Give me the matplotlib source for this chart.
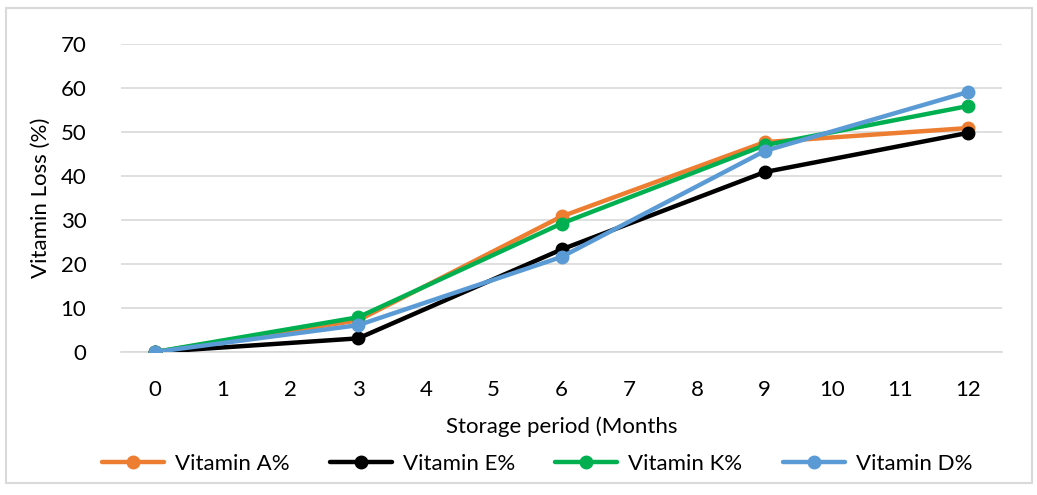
import matplotlib.pyplot as plt
from matplotlib.patches import Rectangle

plt.rcParams['font.family'] = ['Lato', 'DejaVu Sans']

# Lagringstid (måneder) og vitamintap (%)
months = [0, 3, 6, 9, 12]
vit_a = [0, 7.2, 30.8, 47.7, 50.9]
vit_e = [0, 3.1, 23.3, 40.9, 49.8]
vit_k = [0, 7.9, 29.2, 47.0, 55.9]
vit_d = [0, 6.1, 21.6, 45.7, 59.1]

series = [
    ('Vitamin A%', vit_a, '#ED7D31'),
    ('Vitamin E%', vit_e, '#000000'),
    ('Vitamin K%', vit_k, '#00B050'),
    ('Vitamin D%', vit_d, '#5B9BD5'),
]

fs = 16

fig = plt.figure(figsize=(10.37, 4.95), dpi=100)
ax = fig.add_axes([121 / 1037, 1 - 352 / 495, (1002 - 121) / 1037, (352 - 44) / 495])

for navn, verdier, farge in series:
    ax.plot(months, verdier, color=farge, linewidth=3.2, marker='o',
            markersize=9, label=navn, solid_capstyle='round')

ax.set_xlim(-0.5, 12.5)
ax.set_ylim(0, 70)
ax.set_xticks(range(0, 13))
ax.set_yticks(range(0, 71, 10))
ax.grid(axis='y', color='#d9d9d9', linewidth=1.2)
ax.set_axisbelow(True)
for side in ['top', 'right', 'left']:
    ax.spines[side].set_visible(False)
ax.spines['bottom'].set_color('#d9d9d9')
ax.spines['bottom'].set_linewidth(1.2)
ax.spines['bottom'].set_zorder(0)
ax.tick_params(axis='both', length=0, labelsize=fs, colors='#000000')
ax.tick_params(axis='x', pad=20)
ax.tick_params(axis='y', pad=25)

ax.set_xlabel('Storage period (Months', fontsize=fs, labelpad=12)
ax.set_ylabel('Vitamin Loss (%)', fontsize=fs, labelpad=7)

ax.legend(loc='center', bbox_to_anchor=(537 / 1037, 1 - 464 / 495),
          bbox_transform=fig.transFigure, ncol=4, frameon=False,
          fontsize=fs, handlelength=2.8, columnspacing=1.8, handletextpad=0.5)

# Ramme rundt diagrammet
fig.patches.append(Rectangle((6 / 1037, 1 - 483 / 495), (1032 - 6) / 1037,
                             (483 - 8) / 495, transform=fig.transFigure,
                             fill=False, edgecolor='#d9d9d9', linewidth=1.5))

fig.savefig('out.png', dpi=100)
